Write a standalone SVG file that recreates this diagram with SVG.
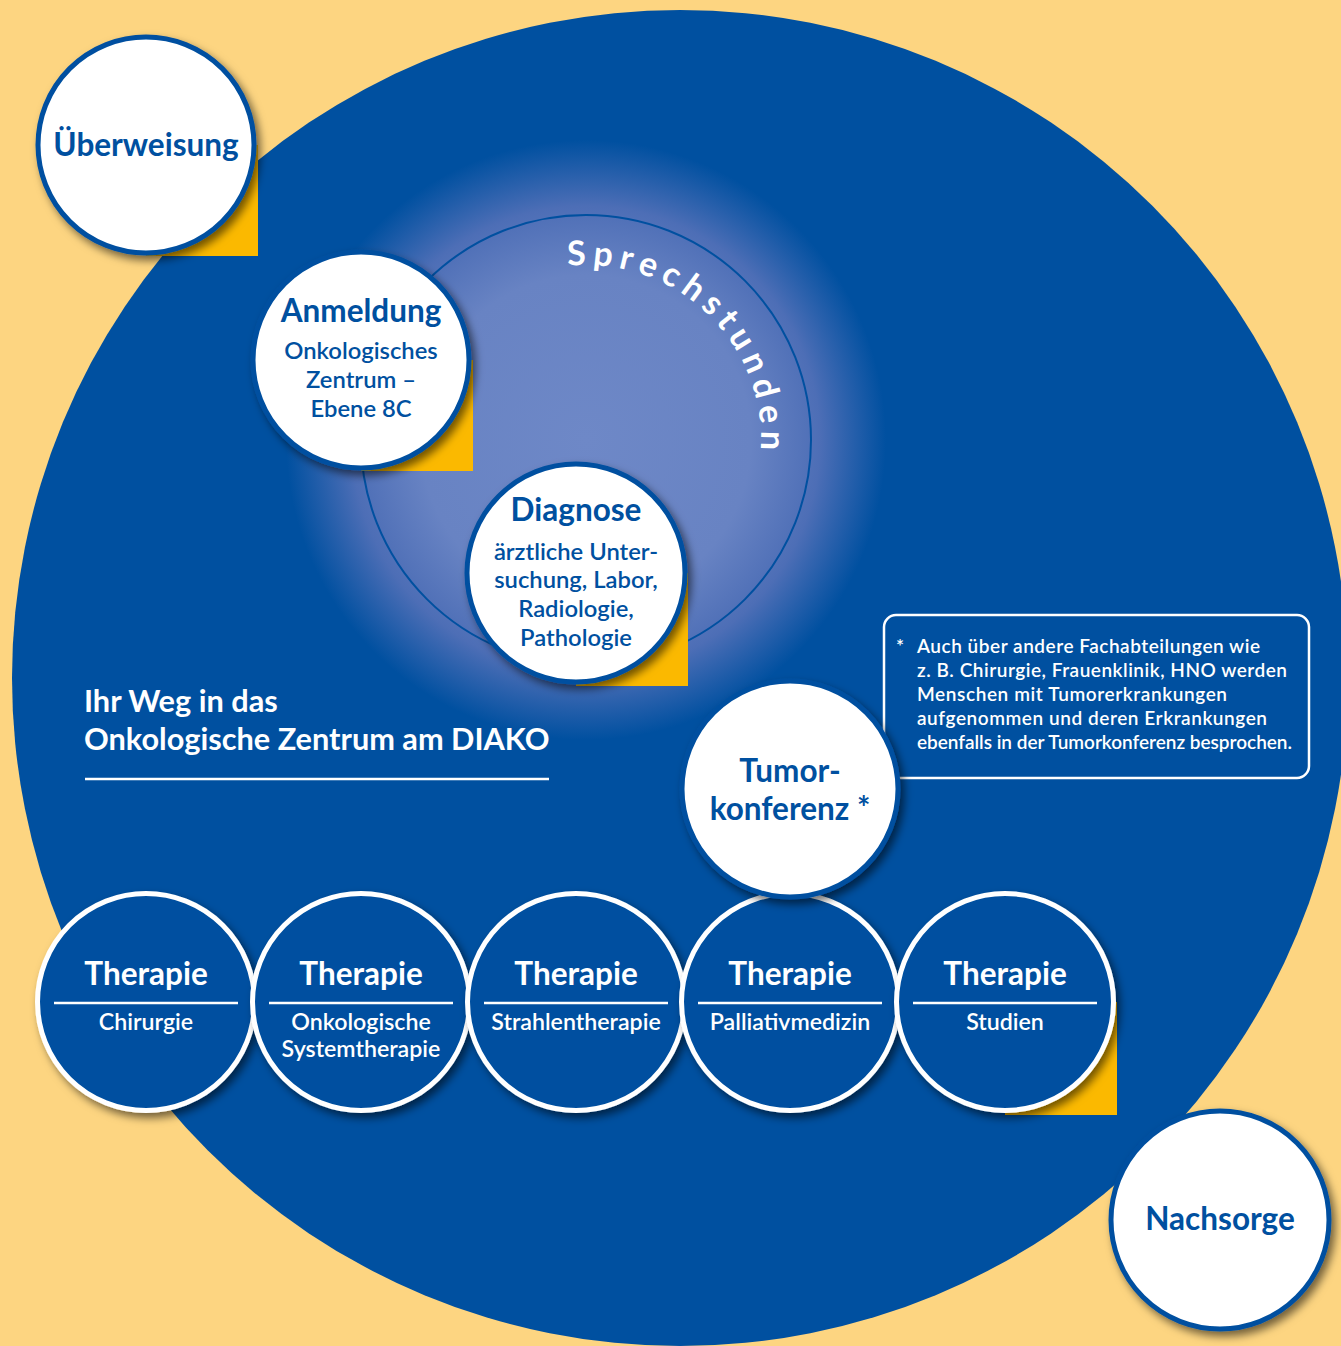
<svg xmlns="http://www.w3.org/2000/svg" width="1341" height="1346" viewBox="0 0 1341 1346">
  <defs>
    <radialGradient id="glow" cx="586" cy="440" r="300" gradientUnits="userSpaceOnUse">
      <stop offset="0" stop-color="#6E88C7"/>
      <stop offset="0.55" stop-color="#6883C3"/>
      <stop offset="0.78" stop-color="#4D6EB6"/>
      <stop offset="1" stop-color="#0050A0"/>
    </radialGradient>
    <filter id="shadow" x="-20%" y="-20%" width="150%" height="150%">
      <feDropShadow dx="4" dy="5" stdDeviation="4" flood-color="#000" flood-opacity="0.55"/>
    </filter>
    <path id="arc" d="M 567.7 266 A 175 175 0 0 1 737.6 527.5"/>
  </defs>
  <style>
    text { font-family: Lato, "Open Sans", "Liberation Sans", sans-serif; }
    .white-node { fill: #FFFFFF; stroke: #0050A0; stroke-width: 5; }
    .blue-node { fill: #0050A0; stroke: #FFFFFF; stroke-width: 5; }
    .corner { fill: #FBB900; }
    .head { font-weight: 700; font-size: 31.5px; fill: #0050A0; text-anchor: middle; }
    .sub { font-weight: 600; font-size: 23.8px; fill: #0050A0; text-anchor: middle; }
    .thead { font-weight: 700; font-size: 31.5px; fill: #FFFFFF; text-anchor: middle; }
    .tsub { font-weight: 600; font-size: 23.2px; fill: #FFFFFF; text-anchor: middle; }
    .rule { stroke: #FFFFFF; stroke-width: 2.5; }
    .note { font-weight: 600; font-size: 19px; fill: #FFFFFF; }
    .title { font-weight: 700; font-size: 30.7px; fill: #FFFFFF; }
  </style>

  <!-- background and main disc -->
  <rect x="0" y="0" width="1341" height="1346" fill="#FDD581"/>
  <circle cx="680" cy="678" r="668" fill="#0050A0"/>

  <!-- consultation area: soft glow, ring and curved label -->
  <g id="sprechstunden">
    <circle cx="586" cy="440" r="300" fill="url(#glow)"/>
    <circle cx="586" cy="440" r="225" fill="none" stroke="#0050A0" stroke-width="2"/>
    <text font-weight="700" font-size="34" fill="#FFFFFF" letter-spacing="6.4">
      <textPath href="#arc">Sprechstunden</textPath>
    </text>
  </g>

  <!-- heading -->
  <g id="title">
    <text class="title" x="84" y="712">Ihr Weg in das</text>
    <text class="title" x="84" y="750">Onkologische Zentrum am DIAKO</text>
    <line class="rule" x1="85" y1="779" x2="549" y2="779"/>
  </g>

  <g id="connectors"/>

  <g id="ueberweisung">
    <rect class="corner" x="146" y="145" width="112" height="111"/>
    <circle class="white-node" cx="146" cy="145" r="108" filter="url(#shadow)"/>
    <text class="head" x="146" y="156">Überweisung</text>
  </g>

  <g id="anmeldung">
    <rect class="corner" x="361" y="360" width="112" height="111"/>
    <circle class="white-node" cx="361" cy="360" r="108" filter="url(#shadow)"/>
    <text class="head" x="361" y="322">Anmeldung</text>
    <text class="sub" x="361" y="359">Onkologisches</text>
    <text class="sub" x="361" y="388">Zentrum –</text>
    <text class="sub" x="361" y="417">Ebene 8C</text>
  </g>

  <g id="diagnose">
    <rect class="corner" x="576" y="573" width="112" height="113"/>
    <circle class="white-node" cx="576" cy="573" r="109" filter="url(#shadow)"/>
    <text class="head" x="576" y="521">Diagnose</text>
    <text class="sub" x="576" y="560">ärztliche Unter-</text>
    <text class="sub" x="576" y="588">suchung, Labor,</text>
    <text class="sub" x="576" y="617">Radiologie,</text>
    <text class="sub" x="576" y="646">Pathologie</text>
  </g>

  <!-- footnote box -->
  <g id="footnote">
    <rect x="884" y="615" width="425" height="163" rx="12" fill="none" stroke="#FFFFFF" stroke-width="2.5"/>
    <text class="note" x="896" y="653">*</text>
    <text class="note" x="917" y="653" textLength="343" lengthAdjust="spacing">Auch über andere Fachabteilungen wie</text>
    <text class="note" x="917" y="677" textLength="370" lengthAdjust="spacing">z. B. Chirurgie, Frauenklinik, HNO werden</text>
    <text class="note" x="917" y="701" textLength="310" lengthAdjust="spacing">Menschen mit Tumorerkrankungen</text>
    <text class="note" x="917" y="725" textLength="350" lengthAdjust="spacing">aufgenommen und deren Erkrankungen</text>
    <text class="note" x="917" y="749" textLength="375" lengthAdjust="spacing">ebenfalls in der Tumorkonferenz besprochen.</text>
  </g>

  <!-- therapy row -->
  <g id="therapie-chirurgie">
    <circle class="blue-node" cx="146" cy="1002" r="108.5" filter="url(#shadow)"/>
    <text class="thead" x="146" y="985">Therapie</text>
    <line class="rule" x1="54" y1="1003" x2="238" y2="1003"/>
    <text class="tsub" x="146" y="1030">Chirurgie</text>
  </g>

  <g id="therapie-system">
    <circle class="blue-node" cx="361" cy="1002" r="108.5" filter="url(#shadow)"/>
    <text class="thead" x="361" y="985">Therapie</text>
    <line class="rule" x1="269" y1="1003" x2="453" y2="1003"/>
    <text class="tsub" x="361" y="1030">Onkologische</text>
    <text class="tsub" x="361" y="1057">Systemtherapie</text>
  </g>

  <g id="therapie-strahlen">
    <circle class="blue-node" cx="576" cy="1002" r="108.5" filter="url(#shadow)"/>
    <text class="thead" x="576" y="985">Therapie</text>
    <line class="rule" x1="484" y1="1003" x2="668" y2="1003"/>
    <text class="tsub" x="576" y="1030">Strahlentherapie</text>
  </g>

  <g id="therapie-palliativ">
    <circle class="blue-node" cx="790" cy="1002" r="108.5" filter="url(#shadow)"/>
    <text class="thead" x="790" y="985">Therapie</text>
    <line class="rule" x1="698" y1="1003" x2="882" y2="1003"/>
    <text class="tsub" x="790" y="1030">Palliativmedizin</text>
  </g>

  <g id="therapie-studien">
    <rect class="corner" x="1005" y="1002" width="112" height="113"/>
    <circle class="blue-node" cx="1005" cy="1002" r="108.5" filter="url(#shadow)"/>
    <text class="thead" x="1005" y="985">Therapie</text>
    <line class="rule" x1="913" y1="1003" x2="1097" y2="1003"/>
    <text class="tsub" x="1005" y="1030">Studien</text>
  </g>

  <g id="tumorkonferenz">
    <circle class="white-node" cx="790" cy="789" r="108" filter="url(#shadow)"/>
    <text class="head" x="790" y="782">Tumor-</text>
    <text class="head" x="790" y="820">konferenz *</text>
  </g>

  <g id="nachsorge">
    <circle class="white-node" cx="1220" cy="1220" r="109" filter="url(#shadow)"/>
    <text class="head" x="1220" y="1230">Nachsorge</text>
  </g>
</svg>
